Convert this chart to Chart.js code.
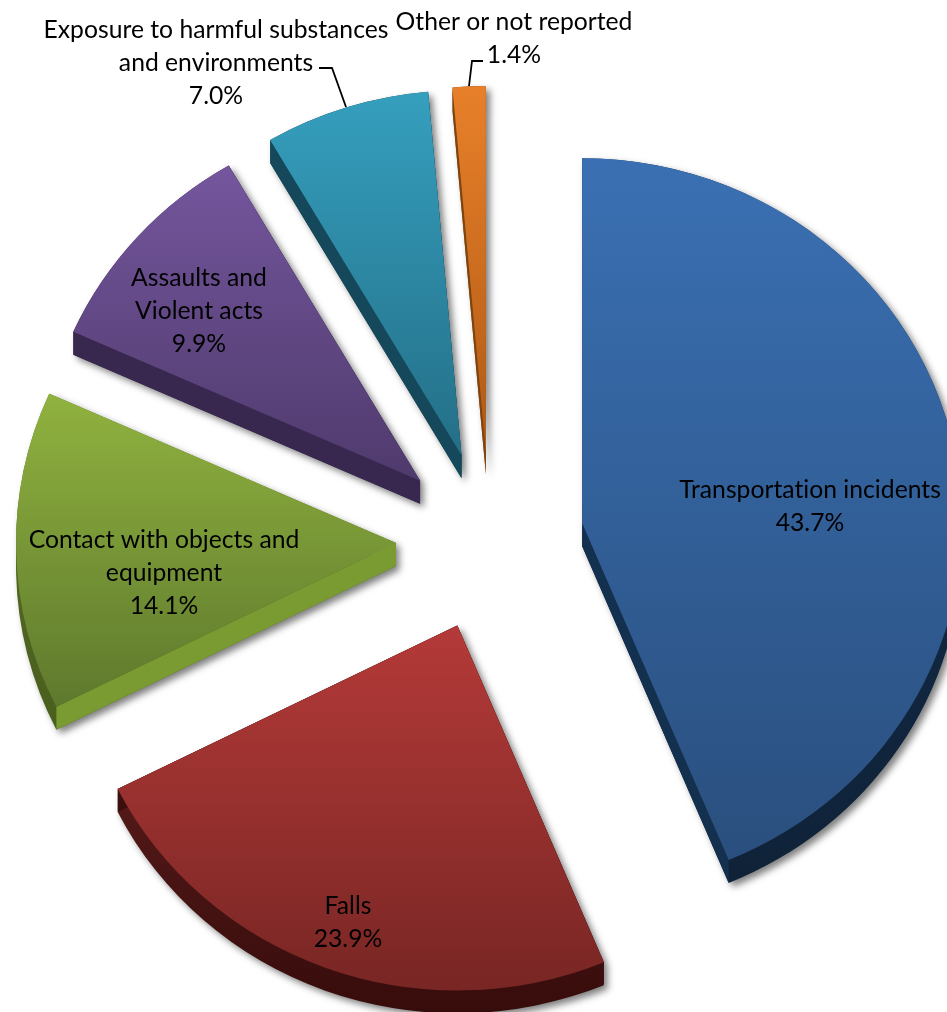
<!DOCTYPE html>
<html>
<head>
<meta charset="utf-8">
<title>Fatal injuries by event</title>
<script src="https://cdn.jsdelivr.net/npm/chart.js@4"></script>
<style>
  html, body { margin: 0; padding: 0; background: #fff; }
  canvas { display: block; }
</style>
</head>
<body>
<canvas id="myChart" width="947" height="1012"></canvas>
<script>
const categories = ['Transportation incidents', 'Falls', 'Contact with objects and equipment', 'Assaults and Violent acts', 'Exposure to harmful substances and environments', 'Other or not reported'];
const shares = [43.7, 23.9, 14.1, 9.9, 7.0, 1.4];

// face colours, top to bottom of each slice
const faceTop = ['#3a70b3', '#b43a38', '#90b23f', '#74569d', '#359fbe', '#e8802a'];
const faceBottom = ['#2a4f7e', '#782624', '#5e792d', '#4f3a6c', '#246f87', '#b05a15'];
const rimTop = ['#14304f', '#6a2423', '#566f24', '#3b2a52', '#15495a', '#8f4d12'];
const rimBottom = ['#0f2238', '#360c0b', '#4a5f1e', '#32234a', '#15495a', '#8f4d12'];
const edgeColor = ['#14304f', '#3a0f0e', '#7a9a32', '#38284f', '#14485a', '#7e4410'];

// how each label breaks over lines, and where it sits
const labelLines = [
  ['Transportation incidents'],
  ['Falls'],
  ['Contact with objects and', 'equipment'],
  ['Assaults and', 'Violent acts'],
  ['Exposure to harmful substances', 'and environments'],
  ['Other or not reported']
];
const labelAt = [[810, 490], [348, 906], [164, 540], [199, 278], [216, 30], [514, 22]];
const leaders = [
  [[319, 68], [332, 68], [346, 107]],
  [[483, 61], [472, 61], [469, 86]]
];

const EXPLODE_X = 94;
const EXPLODE_Y = 90;
const DEPTH = 23;
const STRETCH = 380 / 365;

function sector(path, arc, dy) {
  path.moveTo(arc.x, arc.y + dy);
  path.arc(arc.x, arc.y + dy, arc.outerRadius, arc.startAngle, arc.endAngle);
  path.closePath();
}

function faceRange(arc) {
  let lo = arc.y, hi = arc.y;
  for (let i = 0; i <= 40; i++) {
    const a = arc.startAngle + (arc.endAngle - arc.startAngle) * i / 40;
    const y = arc.y + Math.sin(a) * arc.outerRadius;
    lo = Math.min(lo, y);
    hi = Math.max(hi, y);
  }
  return [lo, hi];
}

const explodedPie = {
  id: 'explodedPie',
  beforeDatasetDraw(chart, args) {
    const ctx = chart.ctx;
    args.meta.data.forEach(function (arc, i) {
      const mid = (arc.startAngle + arc.endAngle) / 2;
      const range = faceRange(arc);

      ctx.save();
      ctx.translate(arc.x + Math.cos(mid) * EXPLODE_X, arc.y + Math.sin(mid) * EXPLODE_Y);
      ctx.scale(STRETCH, 1);
      ctx.translate(-arc.x, -arc.y);

      // rim: every depth step in one path so that there is only one shadow
      const rim = new Path2D();
      for (let d = DEPTH; d >= 0; d--) sector(rim, arc, d);
      const rimGrad = ctx.createLinearGradient(0, range[0], 0, range[1] + DEPTH);
      rimGrad.addColorStop(0, rimTop[i]);
      rimGrad.addColorStop(1, rimBottom[i]);
      ctx.save();
      ctx.shadowColor = 'rgba(0,0,0,0.5)';
      ctx.shadowBlur = 7;
      ctx.shadowOffsetX = 4;
      ctx.shadowOffsetY = 4;
      ctx.fillStyle = rimGrad;
      ctx.fill(rim);
      ctx.restore();

      // straight cut faces
      ctx.fillStyle = edgeColor[i];
      [arc.startAngle, arc.endAngle].forEach(function (a) {
        const ex = arc.x + Math.cos(a) * arc.outerRadius;
        const ey = arc.y + Math.sin(a) * arc.outerRadius;
        ctx.beginPath();
        ctx.moveTo(arc.x, arc.y);
        ctx.lineTo(ex, ey);
        ctx.lineTo(ex, ey + DEPTH);
        ctx.lineTo(arc.x, arc.y + DEPTH);
        ctx.closePath();
        ctx.fill();
      });

      // top face goes through the library's own arc drawing
      const grad = ctx.createLinearGradient(0, range[0], 0, range[1]);
      grad.addColorStop(0, faceTop[i]);
      grad.addColorStop(1, faceBottom[i]);
      arc.options = Object.assign({}, arc.options, { backgroundColor: grad });
      arc.draw(ctx);
      ctx.restore();
    });
    return false;
  }
};

const sliceLabels = {
  id: 'sliceLabels',
  afterDraw(chart) {
    const ctx = chart.ctx;
    ctx.save();
    ctx.strokeStyle = '#000';
    ctx.lineWidth = 1.8;
    leaders.forEach(function (pts) {
      ctx.beginPath();
      pts.forEach(function (p, k) {
        if (k == 0) ctx.moveTo(p[0], p[1]);
        else ctx.lineTo(p[0], p[1]);
      });
      ctx.stroke();
    });
    ctx.fillStyle = '#000';
    ctx.font = '24.7px Lato';
    ctx.letterSpacing = '0.01px'; // keeps the ti ligature out
    ctx.textAlign = 'center';
    ctx.textBaseline = 'middle';
    labelLines.forEach(function (lines, i) {
      const all = lines.concat([shares[i].toFixed(1) + '%']);
      all.forEach(function (t, k) {
        ctx.fillText(t, labelAt[i][0], labelAt[i][1] + k * 33);
      });
    });
    ctx.restore();
  }
};

new Chart(document.getElementById('myChart'), {
  type: 'pie',
  data: {
    labels: categories,
    datasets: [{
      data: shares,
      backgroundColor: faceTop,
      borderWidth: 0,
      clip: false
    }]
  },
  options: {
    responsive: false,
    animation: false,
    radius: 365,
    layout: { padding: { left: 33, top: 70 } },
    plugins: {
      legend: { display: false },
      tooltip: { enabled: false }
    }
  },
  plugins: [explodedPie, sliceLabels]
});
</script>
</body>
</html>
